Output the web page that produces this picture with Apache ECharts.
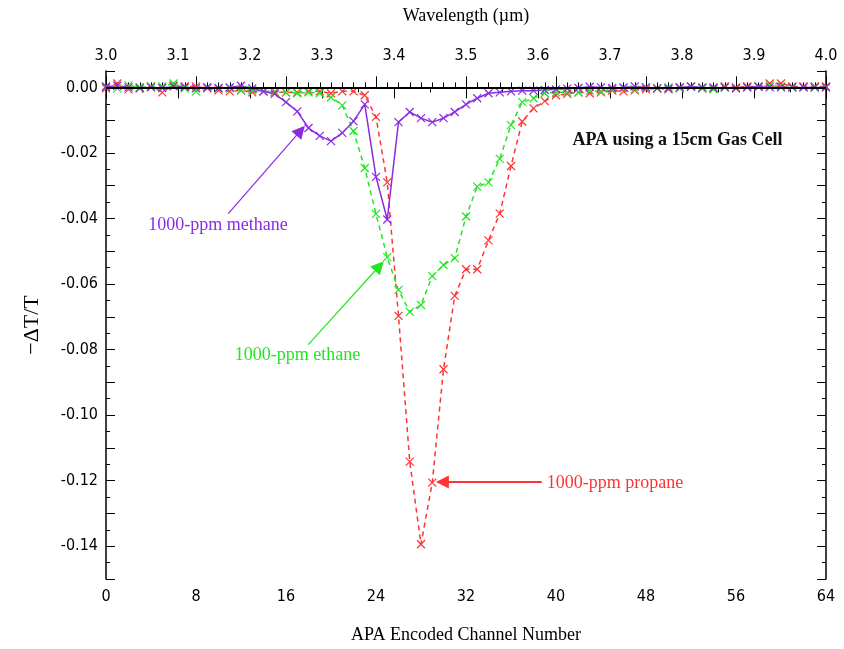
<!DOCTYPE html>
<html>
<head>
<meta charset="utf-8">
<script src="https://cdn.jsdelivr.net/npm/echarts@6/dist/echarts.min.js"></script>
<style>html,body{margin:0;padding:0;background:#fff}#c{width:844px;height:649px}</style>
</head>
<body>
<div id="c"></div>
<script>
const channels = [0,1,2,3,4,5,6,7,8,9,10,11,12,13,14,15,16,17,18,19,20,21,22,23,24,25,26,27,28,29,30,31,32,33,34,35,36,37,38,39,40,41,42,43,44,45,46,47,48,49,50,51,52,53,54,55,56,57,58,59,60,61,62,63,64];

const methane = [0.0002,0.0005,0.0,-0.0003,0.0,-0.0002,0.0003,0.0001,-0.0003,0.0,
 -0.0002,0.0,0.0005,-0.0003,-0.0012,-0.002,-0.0045,-0.0073,-0.0124,-0.0148,
 -0.0164,-0.0139,-0.0103,-0.0052,-0.0273,-0.0403,-0.0106,-0.0075,-0.0094,-0.0106,
 -0.0094,-0.0075,-0.0052,-0.0033,-0.0018,-0.0015,-0.0012,-0.001,-0.001,-0.0008,
 -0.0006,-0.0004,-0.0002,0.0002,0.0,-0.0002,0.0,0.0003,0.0,-0.0003,
 -0.0003,0.0,0.0002,0.0,-0.0002,0.0,-0.0003,0.0,0.0002,0.0,
 0.0,0.0,0.0,0.0,0.0];

const ethane = [0.0003,-0.0003,0.0006,0.0,0.0003,0.0003,0.0012,-0.0003,-0.0012,0.0,
 -0.0003,-0.0003,-0.0009,-0.0009,-0.0012,-0.0012,-0.0015,-0.0018,-0.0015,-0.0018,
 -0.003,-0.0055,-0.0133,-0.0246,-0.0386,-0.0518,-0.0618,-0.0685,-0.0664,-0.0576,
 -0.0542,-0.0521,-0.0394,-0.0303,-0.029,-0.0218,-0.0115,-0.0045,-0.0033,-0.0018,
 -0.0015,-0.0015,-0.0015,-0.001,-0.0012,-0.0006,-0.0003,-0.0006,0.0,-0.0003,
 0.0,-0.0003,0.0003,-0.0003,-0.0006,0.0,-0.0003,0.0,0.0003,0.0006,
 0.0003,0.0,0.0,0.0,0.0];

const propane = [-0.0003,0.0012,-0.0006,0.0,0.0003,-0.0015,0.0006,0.0003,0.0003,-0.0003,
 -0.0009,-0.0012,-0.0009,-0.0015,-0.0012,-0.0015,-0.0015,-0.0015,-0.0012,-0.0012,
 -0.0018,-0.0012,-0.0012,-0.0024,-0.009,-0.029,-0.0697,-0.1142,-0.1394,-0.1206,
 -0.086,-0.0636,-0.0555,-0.0555,-0.0467,-0.0385,-0.024,-0.0104,-0.0064,-0.0042,
 -0.0024,-0.002,-0.0015,-0.0018,-0.0015,-0.001,-0.0012,-0.0009,-0.0006,-0.0003,
 -0.0006,0.0,0.0003,-0.0003,0.0,0.0003,0.0,0.0003,0.0003,0.0012,
 0.0012,0.0003,0.0003,0.0003,0.0003];

const seriesNames = ['1000-ppm methane','1000-ppm ethane','1000-ppm propane'];
const chartNote = 'APA using a 15cm Gas Cell';
const xTitle = 'APA Encoded Channel Number';
const topTitle = 'Wavelength (\u00b5m)';
const yTitle = '\u2212\u0394T/T';

const COL_M = '#8a2be2', COL_E = '#22e622', COL_P = '#ff3333';
const XSYM = 'path://M0,0L10,10M10,0L0,10';
const serif = "'Liberation Serif','Times New Roman',serif";
const narrow = "'Liberation Sans Narrow','DejaVu Sans Condensed','Arial Narrow',sans-serif";

function pts(arr){ return channels.map((c,i)=>[c, arr[i]]); }

function series(name, arr, color, dashed, extra){
  return Object.assign({
    name, type:'line', data: pts(arr),
    symbol: XSYM, symbolSize: 8, showAllSymbol: true,
    itemStyle: {color: color, borderColor: color, borderWidth: 1.2},
    lineStyle: {color: color, width: 1.5, type: dashed ? [5,4] : 'solid'},
    emphasis: {disabled: true}, silent: true, z: 3
  }, extra || {});
}

function arrowSeg(from, to, color, width){
  return [{coord: from, symbol: 'none'},
          {coord: to, symbol: 'triangle', symbolSize: 13,
           lineStyle: {color: color, width: width, type: 'solid'}}];
}
function noteItem(coord, text, color, size, bold){
  return {coord: coord, label: {show: true, position: 'inside', formatter: text, color: color,
      fontSize: size, fontFamily: serif, fontWeight: bold ? 'bold' : 'normal'}};
}
function markLineOf(items, color, width){
  return {silent: true, symbol: ['none','none'], label: {show: false},
    lineStyle: {color: color, width: width, type: 'solid'}, data: items};
}
function markPointOf(items){
  return {silent: true, symbol: 'circle', symbolSize: 1,
    itemStyle: {color: 'rgba(0,0,0,0)'}, data: items};
}

const chart = echarts.init(document.getElementById('c'), null, {renderer: 'canvas'});
chart.setOption({
  animation: false,
  backgroundColor: '#fff',
  grid: {left: 106, right: 18, top: 71, bottom: 65},
  xAxis: [{
    type: 'value', position: 'bottom', min: 0, max: 64, interval: 8,
    name: xTitle, nameLocation: 'middle', nameGap: 47,
    nameTextStyle: {fontFamily: serif, fontSize: 18, color: '#000'},
    axisLine: {show: true, lineStyle: {color: '#000', width: 1.5}},
    axisTick: {show: true, inside: true, length: 11, lineStyle: {color: '#000', width: 1}},
    minorTick: {show: true, splitNumber: 8, length: 5, lineStyle: {color: '#000', width: 1}},
    axisLabel: {margin: 10, fontSize: 16, fontFamily: narrow, color: '#000'},
    splitLine: {show: false}, minorSplitLine: {show: false}
  }, {
    type: 'value', position: 'top', min: 3.0, max: 4.0, interval: 0.1,
    name: topTitle, nameLocation: 'middle', nameGap: 46,
    nameTextStyle: {fontFamily: serif, fontSize: 18, color: '#000'},
    axisLine: {show: true, lineStyle: {color: '#000', width: 1.5}},
    axisTick: {show: true, inside: true, length: 11, lineStyle: {color: '#000', width: 1}},
    minorTick: {show: true, splitNumber: 2, length: 5, lineStyle: {color: '#000', width: 1}},
    axisLabel: {margin: 7, fontSize: 16, fontFamily: narrow, color: '#000',
      formatter: v => v.toFixed(1)},
    splitLine: {show: false}, minorSplitLine: {show: false}
  }],
  yAxis: [{
    type: 'value', position: 'left', min: -0.15, max: 0.005, interval: 0.01,
    name: yTitle, nameLocation: 'middle', nameGap: 63, nameRotate: 90,
    nameTextStyle: {fontFamily: serif, fontSize: 22, color: '#000'},
    axisLine: {show: true, lineStyle: {color: '#000', width: 1.5}},
    axisTick: {show: true, inside: true, length: 9, lineStyle: {color: '#000', width: 1}},
    minorTick: {show: true, splitNumber: 2, length: 4, lineStyle: {color: '#000', width: 1}},
    axisLabel: {margin: 8, fontSize: 16, fontFamily: narrow, color: '#000',
      formatter: v => {
        const k = Math.round(v * 100);
        if (v > 0.001 || k % 2 !== 0) return '';
        return (k === 0 ? 0 : v).toFixed(2);
      }},
    splitLine: {show: false}, minorSplitLine: {show: false}
  }, {
    type: 'value', position: 'right', min: -0.15, max: 0.005, interval: 0.01,
    axisLine: {show: true, lineStyle: {color: '#000', width: 1.5}},
    axisTick: {show: true, inside: true, length: 9, lineStyle: {color: '#000', width: 1}},
    minorTick: {show: true, splitNumber: 2, length: 4, lineStyle: {color: '#000', width: 1}},
    axisLabel: {show: false},
    splitLine: {show: false}, minorSplitLine: {show: false}
  }],
  series: [
    series(seriesNames[2], propane, COL_P, true, {
      markLine: markLineOf([arrowSeg([38.73, -0.1204], [29.9, -0.1204], COL_P, 2)], COL_P, 2),
      markPoint: markPointOf([noteItem([45.24, -0.1209], seriesNames[2], COL_P, 18, false)])
    }),
    series(seriesNames[1], ethane, COL_E, true, {
      markLine: markLineOf([arrowSeg([17.98, -0.0785], [24.3, -0.0545], COL_E, 1.2)], COL_E, 1.2),
      markPoint: markPointOf([noteItem([17.02, -0.0818], seriesNames[1], COL_E, 18, false)])
    }),
    series(seriesNames[0], methane, COL_M, false, {
      markLine: markLineOf([
        {yAxis: 0, lineStyle: {color: '#000', width: 2, type: 'solid'}},
        arrowSeg([10.87, -0.0385], [17.3, -0.0132], COL_M, 1.2)
      ], COL_M, 1.2),
      markPoint: markPointOf([
        noteItem([9.96, -0.0421], seriesNames[0], COL_M, 18, false),
        noteItem([50.8, -0.0163], chartNote, '#111', 18, true)
      ])
    })
  ]
});
</script>
</body>
</html>
